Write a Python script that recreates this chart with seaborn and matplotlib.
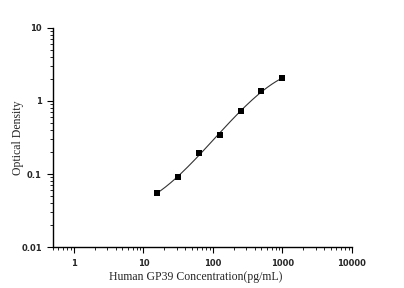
import numpy as np
import matplotlib
matplotlib.use("Agg")
import matplotlib.pyplot as plt
import seaborn as sns
from matplotlib.ticker import LogLocator, FixedLocator, FixedFormatter, NullFormatter

concentration = [15.6, 31.25, 62.5, 125, 250, 500, 1000]
optical_density = [0.055, 0.090, 0.192, 0.342, 0.734, 1.35, 2.04]
x_ticks = [1, 10, 100, 1000, 10000]
x_tick_labels = ["1", "10", "100", "1000", "10000"]
y_ticks = [0.01, 0.1, 1, 10]
y_tick_labels = ["0.01", "0.1", "1", "10"]

sns.set_style("white")
plt.rcParams['font.family'] = ['Liberation Serif', 'DejaVu Serif']

fig = plt.figure(figsize=(4.04, 2.88), dpi=100)
ax = fig.add_axes([0.131, 0.141, 0.740, 0.763])

# smooth fitted curve in log-log space
lx = np.log10(concentration)
ly = np.log10(optical_density)
coef = np.polyfit(lx, ly, 3)
xs = np.linspace(lx.min(), lx.max(), 200)
sns.lineplot(x=10 ** xs, y=10 ** np.polyval(coef, xs), ax=ax,
             color="#333333", linewidth=0.8)
sns.scatterplot(x=concentration, y=optical_density, ax=ax, marker="s",
                color="black", s=14, edgecolor="black", linewidth=0, zorder=3)

ax.set_xscale("log")
ax.set_yscale("log")
ax.set_xlim(0.5, 10000)
ax.set_ylim(0.01, 10)

ax.xaxis.set_major_locator(FixedLocator(x_ticks))
ax.xaxis.set_major_formatter(FixedFormatter(x_tick_labels))
ax.yaxis.set_major_locator(FixedLocator(y_ticks))
ax.yaxis.set_major_formatter(FixedFormatter(y_tick_labels))
for axis in (ax.xaxis, ax.yaxis):
    axis.set_minor_locator(LogLocator(base=10, subs=np.arange(2, 10), numticks=20))
    axis.set_minor_formatter(NullFormatter())
for lab in ax.get_xticklabels() + ax.get_yticklabels():
    lab.set_fontfamily("DejaVu Sans")
    lab.set_fontsize(6)
    lab.set_fontweight("bold")

ax.tick_params(which="major", direction="out", length=4, width=0.8, color="black",
               bottom=True, left=True, pad=4)
ax.tick_params(which="minor", direction="out", length=2, width=0.6, color="black",
               bottom=True, left=True)

sns.despine(ax=ax)
for sp in ("left", "bottom"):
    ax.spines[sp].set_color("black")
    ax.spines[sp].set_linewidth(1.0)

ax.set_xlabel("Human GP39 Concentration(pg/mL)", fontsize=8.5, va="center")
ax.set_ylabel("Optical Density", fontsize=8.5, va="center")
ax.xaxis.set_label_coords(0.478, -0.135)
ax.yaxis.set_label_coords(-0.117, 0.5)

fig.savefig("out.png", dpi=100)
